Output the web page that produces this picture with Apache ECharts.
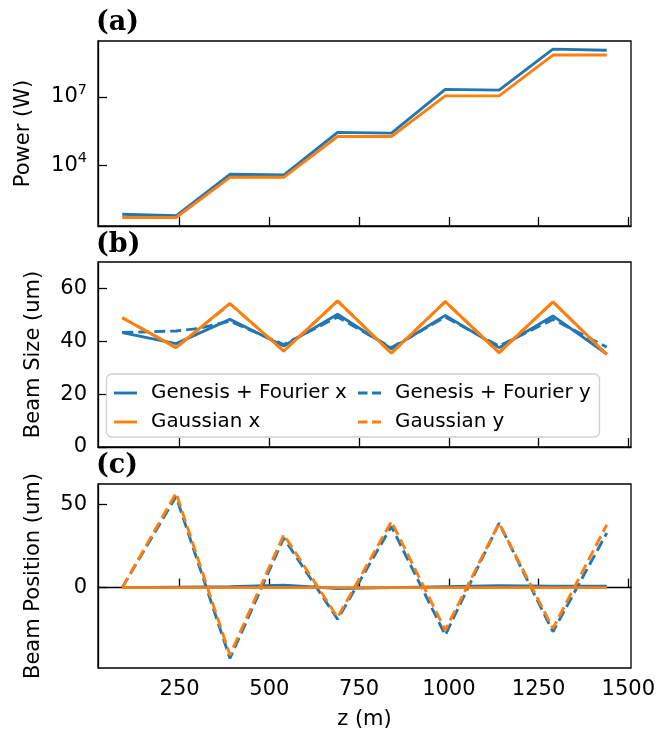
<!DOCTYPE html>
<html>
<head>
<meta charset="utf-8">
<script src="https://cdn.jsdelivr.net/npm/echarts@6/dist/echarts.min.js"></script>
<style>
  html, body { margin: 0; padding: 0; background: #fff; }
  #chart { width: 669px; height: 733px; }
</style>
</head>
<body>
<div id="chart"></div>
<script>
// z positions along the line (m)
const zPos = [90, 240, 390, 540, 690, 840, 990, 1140, 1290, 1440];

// (a) power (W)
const powerGenesis = [76, 65, 4200, 3900, 2.8e5, 2.6e5, 2.1e7, 1.95e7, 1.2e9, 1.07e9];
const powerGaussian = [55, 55, 3100, 3100, 1.86e5, 1.86e5, 1.1e7, 1.1e7, 6.6e8, 6.6e8];

// (b) beam size (um)
const sizeGenesisX = [43.3, 39.1, 48.3, 38.2, 50.2, 37.2, 49.8, 37.6, 49.6, 35.2];
const zGenesisY = [90, 240, 300, 390, 540, 690, 840, 990, 1140, 1290, 1440];
const sizeGenesisY = [43.3, 43.9, 44.8, 47.6, 38.8, 49.2, 37.6, 49.2, 38.2, 48.3, 37.8];
const sizeGaussX = [48.9, 37.6, 54.3, 36.3, 55.3, 35.5, 55.0, 35.7, 54.9, 35.0];
const sizeGaussY = [48.9, 37.6, 54.2, 36.3, 55.2, 35.5, 55.0, 35.7, 54.9, 35.0];

// (c) beam position (um)
const posGenesisX = [0, 0.3, 0.5, 1.5, -0.5, 0, 0.6, 1.2, 0.8, 0.8];
const posGenesisY = [0, 55.0, -42.7, 29.9, -19.1, 36.9, -28.6, 38.9, -26.6, 32.9];
const posGaussX = [0, 0, 0, 0, 0, 0, 0, 0, 0, 0];
const posGaussY = [0, 57.1, -40.7, 31.9, -17.9, 39.9, -25.6, 38.9, -24.6, 37.9];

// ticks
const zTicks = [250, 500, 750, 1000, 1250, 1500];
const powerTicks = [1e4, 1e7];
const sizeTicks = [0, 20, 40, 60];
const posTicks = [0, 50];

const BLUE = '#1f77b4';
const ORANGE = '#ff7f0e';
const FONT = 'DejaVu Sans';
const FS = 21;
const LW = 2.9;
const DASH = [11, 5];

// legend handles: solid bar / two dashes, like matplotlib
const SOLID_ICON = 'path://M0,0 H23 V2.9 H0 Z';
const DASH_ICON = 'path://M0,0 H9.5 V2.9 H0 Z M14,0 H23 V2.9 H14 Z';

const pairs = (xs, ys) => xs.map((x, i) => [x, ys[i]]);

function line(name, grid, xs, ys, color, dashed) {
  return {
    name,
    type: 'line',
    xAxisIndex: grid,
    yAxisIndex: grid,
    data: pairs(xs, ys),
    symbol: 'none',
    showSymbol: false,
    lineStyle: { color, width: LW, type: dashed ? DASH : 'solid' },
    itemStyle: { color },
    emphasis: { disabled: true },
  }
}

const tickStyle = { color: '#000', width: 1.3 }

function xAxis(grid, withLabels) {
  return {
    type: 'value',
    gridIndex: grid,
    min: 22.5,
    max: 1507.5,
    name: withLabels ? 'z (m)' : '',
    nameLocation: 'middle',
    nameGap: 41,
    nameTextStyle: { fontFamily: FONT, fontSize: FS, color: '#000' },
    axisLine: { show: true, lineStyle: tickStyle },
    axisTick: { show: true, inside: true, length: 9, lineStyle: tickStyle, customValues: zTicks },
    axisLabel: {
      show: withLabels,
      customValues: zTicks,
      margin: 11,
      fontFamily: FONT,
      fontSize: FS,
      color: '#000',
      formatter: (v) => String(v),
    },
    splitLine: { show: false },
  }
}

function yAxisBase(grid, name, gap) {
  return {
    gridIndex: grid,
    name,
    nameLocation: 'middle',
    nameRotate: 90,
    nameGap: gap,
    nameTextStyle: { fontFamily: FONT, fontSize: FS, color: '#000' },
    axisLine: { show: true, lineStyle: tickStyle },
    splitLine: { show: false },
  }
}

const titleStyle = { fontFamily: 'DejaVu Serif', fontWeight: 'bold', fontSize: 27, color: '#000' }

function legendBlock(items, left) {
  return {
    data: items,
    orient: 'vertical', left, top: 383, padding: 0, itemGap: 9,
    itemWidth: 23, itemHeight: 2.9, z: 6,
    formatter: (n) => '{t|' + n + '}',
    textStyle: { fontFamily: FONT, fontSize: 19.9, color: '#000',
      rich: { t: { fontFamily: FONT, fontSize: 19.9, color: '#000', padding: [0, 0, 0, 9] } } },
  }
}

const option = {
  animation: false,
  backgroundColor: '#fff',
  title: [
    { text: '(a)', left: 96, top: 9, padding: 0, textStyle: titleStyle },
    { text: '(b)', left: 96, top: 231, padding: 0, textStyle: titleStyle },
    { text: '(c)', left: 96, top: 452, padding: 0, textStyle: titleStyle },
  ],
  grid: [
    { left: 98, right: 38, top: 41, height: 185, show: true, borderColor: '#000', borderWidth: 1.3, backgroundColor: 'transparent' },
    { left: 98, right: 38, top: 262, height: 185, show: true, borderColor: '#000', borderWidth: 1.3, backgroundColor: 'transparent' },
    { left: 98, right: 38, top: 484, height: 184, show: true, borderColor: '#000', borderWidth: 1.3, backgroundColor: 'transparent' },
  ],
  xAxis: [xAxis(0, false), xAxis(1, false), xAxis(2, true)],
  yAxis: [
    Object.assign(yAxisBase(0, 'Power (W)', 64), {
      type: 'log',
      logBase: 10,
      min: 23.4,
      max: 2.7e9,
      axisTick: { show: true, inside: true, length: 9, lineStyle: tickStyle, customValues: powerTicks },
      axisLabel: {
        customValues: powerTicks,
        margin: 11,
        fontFamily: FONT,
        fontSize: FS,
        color: '#000',
        formatter: (v) => '10{sup|' + Math.round(Math.log10(v)) + '}',
        rich: { sup: { fontFamily: FONT, fontSize: 14.5, color: '#000', padding: [0, 0, 14, 0] } },
      },
    }),
    Object.assign(yAxisBase(1, 'Beam Size (um)', 54), {
      type: 'value',
      min: 0,
      max: 70,
      axisTick: { show: true, inside: true, length: 9, lineStyle: tickStyle, customValues: sizeTicks },
      axisLabel: { customValues: sizeTicks, margin: 11, fontFamily: FONT, fontSize: FS, color: '#000' },
    }),
    Object.assign(yAxisBase(2, 'Beam Position (um)', 54), {
      type: 'value',
      min: -48.5,
      max: 62.5,
      axisTick: { show: true, inside: true, length: 9, lineStyle: tickStyle, customValues: posTicks },
      axisLabel: { customValues: posTicks, margin: 11, fontFamily: FONT, fontSize: FS, color: '#000' },
    }),
  ],
  graphic: [{
    type: 'rect',
    z: 5,
    shape: { x: 106.5, y: 374, width: 493, height: 63, r: 5 },
    style: { fill: 'rgba(255,255,255,0.8)', stroke: '#d0d0d0', lineWidth: 1.3 },
  }],
  legend: [
    legendBlock([
      { name: 'Genesis + Fourier x', icon: SOLID_ICON },
      { name: 'Gaussian x', icon: SOLID_ICON },
    ], 114),
    legendBlock([
      { name: 'Genesis + Fourier y', icon: DASH_ICON },
      { name: 'Gaussian y', icon: DASH_ICON },
    ], 358),
  ],
  series: [
    line('Power Genesis', 0, zPos, powerGenesis, BLUE, false),
    line('Power Gaussian', 0, zPos, powerGaussian, ORANGE, false),

    line('Genesis + Fourier x', 1, zPos, sizeGenesisX, BLUE, false),
    line('Genesis + Fourier y', 1, zGenesisY, sizeGenesisY, BLUE, true),
    line('Gaussian x', 1, zPos, sizeGaussX, ORANGE, false),
    line('Gaussian y', 1, zPos, sizeGaussY, ORANGE, true),

    line('Pos Genesis x', 2, zPos, posGenesisX, BLUE, false),
    line('Pos Genesis y', 2, zPos, posGenesisY, BLUE, true),
    line('Pos Gaussian x', 2, zPos, posGaussX, ORANGE, false),
    line('Pos Gaussian y', 2, zPos, posGaussY, ORANGE, true),
  ],
}

const chart = echarts.init(document.getElementById('chart'), null, { renderer: 'canvas' })
chart.setOption(option)
</script>
</body>
</html>
